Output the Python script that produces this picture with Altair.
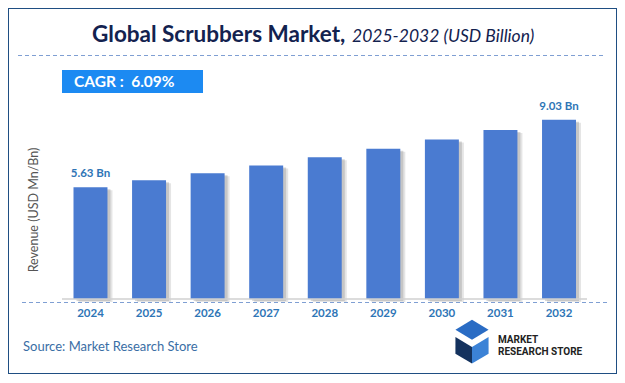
import altair as alt
import pandas as pd

years = ["2024", "2025", "2026", "2027", "2028", "2029", "2030", "2031", "2032"]
values = [5.63, 5.98, 6.34, 6.73, 7.14, 7.57, 8.04, 8.52, 9.03]
labelled_years = ["2024", "2032"]

title_bold = "Global Scrubbers Market,"
title_italic = "2025-2032 (USD Billion)"
cagr_text = "CAGR :\u00a0\u00a06.09%"
y_title = "Revenue (USD Mn/Bn)"
source_text = "Source: Market Research Store"
logo_lines = ["MARKET", "RESEARCH STORE"]

FONT = "Lato"
BAR = "#4a7bd1"
LABEL = "#2e75b6"

df = pd.DataFrame({"year": years, "value": values})

xs = alt.Scale(range=[53.2, 580.3], paddingInner=0.42, paddingOuter=0.21)
ys = alt.Scale(domain=[0, 10], range=[291, 92.5])
X = alt.X("year:O", scale=xs, axis=None)
Y = alt.Y("value:Q", scale=ys, axis=None)

base = alt.Chart(df)

def one():
    return alt.Chart(pd.DataFrame({"k": [0]}))

shadow = base.mark_bar(color="#8c8c8c", opacity=0.35, xOffset=3, yOffset=2).encode(x=X, y=Y)
shadow2 = base.mark_bar(color="#bdbdbd", opacity=0.4, xOffset=5, yOffset=3).encode(x=X, y=Y)
bars = base.mark_bar(color=BAR).encode(x=X, y=Y)

vlabels = base.transform_filter(
    alt.FieldOneOfPredicate(field="year", oneOf=labelled_years)
).transform_calculate(
    lbl="format(datum.value, '.2f') + ' Bn'"
).mark_text(font=FONT, fontWeight="bold", fontSize=11.5, color=LABEL, baseline="middle", dy=-13).encode(
    x=X, y=Y, text="lbl:N"
)

ylabels = base.mark_text(font=FONT, fontWeight="bold", fontSize=11.5, color=LABEL, baseline="middle").encode(
    x=X, y=alt.value(306), text="year:N"
)

gray_base = one().mark_rule(color="#d0d0d0", strokeWidth=1.5).encode(
    x=alt.value(54), x2=alt.value(579), y=alt.value(291))
dash_bottom = one().mark_rule(color="#7f9fd3", strokeWidth=1.2, strokeDash=[4, 3]).encode(
    x=alt.value(14), x2=alt.value(600), y=alt.value(294.5))
dash_top = one().mark_rule(color="#7f9fd3", strokeWidth=1.2, strokeDash=[4, 3]).encode(
    x=alt.value(10), x2=alt.value(597), y=alt.value(47.5))

t_bold = one().mark_text(text=title_bold, font=FONT, fontWeight="bold", fontSize=22.5, color="#13224f",
                         align="left", baseline="alphabetic").encode(x=alt.value(84), y=alt.value(34))
t_ital = one().mark_text(text=title_italic, font=FONT, fontStyle="italic", fontSize=17.5, color="#13224f",
                         align="left", baseline="alphabetic").encode(x=alt.value(344), y=alt.value(34))

cagr_box = one().mark_rect(color="#1c8af2").encode(
    x=alt.value(54), x2=alt.value(195), y=alt.value(62), y2=alt.value(85))
cagr_t = one().mark_text(text=cagr_text, font=FONT, fontWeight="bold", fontSize=15.5, color="white",
                         align="left", baseline="middle").encode(x=alt.value(66), y=alt.value(74))

ytitle = one().mark_text(text=y_title, font=FONT, fontSize=12.5, color="#555555", angle=270,
                         align="center", baseline="middle").encode(x=alt.value(26), y=alt.value(202))

src = one().mark_text(text=source_text, font=FONT, fontSize=13, color="#3a6ea5",
                      align="left", baseline="middle").encode(x=alt.value(15), y=alt.value(339))

logo1 = one().mark_text(text=logo_lines[0], font="Roboto", fontWeight="bold", fontSize=10, color="#222222",
                        align="left", baseline="middle").encode(x=alt.value(490), y=alt.value(332))
logo2 = one().mark_text(text=logo_lines[1], font="Roboto", fontWeight="bold", fontSize=10, color="#222222",
                        align="left", baseline="middle").encode(x=alt.value(490), y=alt.value(344))
icon_a = one().mark_point(shape="M-1,-0.2 L0,-0.8 L1,-0.2 L0,0.4 Z", filled=True, color="#2a6cc4",
                          size=1100, opacity=1).encode(x=alt.value(464), y=alt.value(325))
icon_b = one().mark_point(shape="M-1,-0.6 L0,0 L0,1 L-1,0.4 Z", filled=True, color="#14325e",
                          size=1100, opacity=1).encode(x=alt.value(464), y=alt.value(339))
icon_c = one().mark_point(shape="M0,0 L1,-0.6 L1,0.4 L0,1 Z", filled=True, color="#3b82d6",
                          size=1100, opacity=1).encode(x=alt.value(464), y=alt.value(339))

chart = alt.layer(
    dash_top, t_bold, t_ital, cagr_box, cagr_t,
    shadow2, shadow, bars, gray_base, dash_bottom, vlabels, ylabels, ytitle, src,
    icon_b, icon_c, icon_a, logo1, logo2,
).properties(
    width=609, height=366, autosize=alt.AutoSizeParams(type="none"), padding=0
).configure_view(stroke="#1f4e82", strokeWidth=2)

chart.save("out.html", embed_options={"renderer": "svg", "actions": False})
